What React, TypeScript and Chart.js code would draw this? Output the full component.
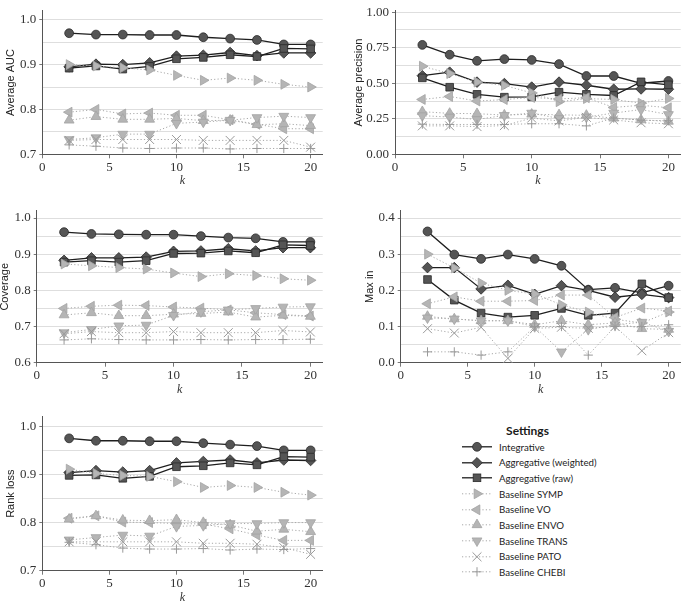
import React, { useEffect, useRef } from "react";
import { Chart, registerables } from "chart.js";
Chart.register(...registerables);

const SERIF = '"Liberation Serif", "DejaVu Serif", serif';
const SANS = '"Liberation Sans", Arial, sans-serif';
const LEGEND_FONT = 'Lato, "Open Sans", sans-serif';

// ---------- data ----------
const kValues = [2, 4, 6, 8, 10, 12, 14, 16, 18, 20];
const xTickValues = [0, 5, 10, 15, 20];

const seriesLabels = [
  "Integrative",
  "Aggregative (weighted)",
  "Aggregative (raw)",
  "Baseline SYMP",
  "Baseline VO",
  "Baseline ENVO",
  "Baseline TRANS",
  "Baseline PATO",
  "Baseline CHEBI",
];

// Average AUC
const aucIntegrative = [0.970, 0.967, 0.967, 0.966, 0.966, 0.961, 0.958, 0.955, 0.945, 0.945];
const aucWeighted = [0.895, 0.901, 0.900, 0.904, 0.919, 0.921, 0.927, 0.920, 0.926, 0.926];
const aucRaw = [0.892, 0.897, 0.890, 0.896, 0.913, 0.916, 0.922, 0.918, 0.936, 0.935];
const aucSymp = [0.900, 0.897, 0.893, 0.888, 0.876, 0.865, 0.870, 0.865, 0.856, 0.850];
const aucVo = [0.794, 0.800, 0.790, 0.792, 0.787, 0.787, 0.777, 0.767, 0.757, 0.757];
const aucEnvo = [0.776, 0.784, 0.778, 0.778, 0.780, 0.775, 0.776, 0.766, 0.768, 0.764];
const aucTrans = [0.733, 0.737, 0.745, 0.745, 0.769, 0.772, 0.776, 0.782, 0.785, 0.782];
const aucPato = [0.731, 0.733, 0.733, 0.733, 0.733, 0.731, 0.731, 0.731, 0.731, 0.716];
const aucChebi = [0.721, 0.718, 0.714, 0.713, 0.714, 0.714, 0.712, 0.713, 0.713, 0.713];
const aucTicks = [0.7, 0.75, 0.8, 0.85, 0.9, 0.95, 1.0];
const aucTickLabels = ["0.7", "", "0.8", "", "0.9", "", "1.0"];

// Average precision
const apIntegrative = [0.770, 0.701, 0.658, 0.670, 0.664, 0.635, 0.551, 0.551, 0.500, 0.516];
const apWeighted = [0.553, 0.578, 0.508, 0.498, 0.473, 0.508, 0.486, 0.458, 0.460, 0.458];
const apRaw = [0.538, 0.472, 0.422, 0.402, 0.404, 0.437, 0.422, 0.414, 0.510, 0.489];
const apSymp = [0.620, 0.568, 0.508, 0.485, 0.432, 0.370, 0.392, 0.386, 0.360, 0.393];
const apVo = [0.386, 0.407, 0.375, 0.385, 0.400, 0.390, 0.398, 0.330, 0.345, 0.328];
const apEnvo = [0.300, 0.288, 0.286, 0.276, 0.282, 0.278, 0.274, 0.254, 0.242, 0.232];
const apTrans = [0.272, 0.262, 0.245, 0.274, 0.290, 0.252, 0.262, 0.290, 0.315, 0.280];
const apPato = [0.200, 0.200, 0.195, 0.202, 0.255, 0.235, 0.260, 0.242, 0.222, 0.215];
const apChebi = [0.212, 0.210, 0.210, 0.210, 0.215, 0.215, 0.200, 0.255, 0.240, 0.236];
const apTicks = [0, 0.125, 0.25, 0.375, 0.5, 0.625, 0.75, 0.875, 1.0];
const apTickLabels = ["0.00", "", "0.25", "", "0.50", "", "0.75", "", "1.00"];

// Coverage
const covIntegrative = [0.961, 0.956, 0.955, 0.954, 0.954, 0.950, 0.946, 0.944, 0.934, 0.934];
const covWeighted = [0.883, 0.890, 0.890, 0.892, 0.908, 0.909, 0.915, 0.909, 0.918, 0.918];
const covRaw = [0.878, 0.882, 0.878, 0.882, 0.902, 0.903, 0.909, 0.904, 0.926, 0.924];
const covSymp = [0.873, 0.868, 0.863, 0.859, 0.848, 0.838, 0.846, 0.841, 0.832, 0.828];
const covVo = [0.750, 0.756, 0.759, 0.758, 0.754, 0.751, 0.746, 0.738, 0.733, 0.729];
const covEnvo = [0.732, 0.738, 0.730, 0.730, 0.734, 0.736, 0.740, 0.726, 0.731, 0.728];
const covTrans = [0.683, 0.692, 0.702, 0.704, 0.731, 0.741, 0.746, 0.750, 0.754, 0.755];
const covPato = [0.680, 0.686, 0.683, 0.683, 0.686, 0.683, 0.683, 0.683, 0.689, 0.685];
const covChebi = [0.663, 0.666, 0.664, 0.663, 0.663, 0.664, 0.663, 0.664, 0.664, 0.665];
const covTicks = [0.6, 0.65, 0.7, 0.75, 0.8, 0.85, 0.9, 0.95, 1.0];
const covTickLabels = ["0.6", "", "0.7", "", "0.8", "", "0.9", "", "1.0"];

// Max in
const maxIntegrative = [0.363, 0.299, 0.287, 0.299, 0.287, 0.268, 0.202, 0.207, 0.193, 0.213];
const maxWeighted = [0.263, 0.263, 0.204, 0.214, 0.189, 0.213, 0.200, 0.181, 0.189, 0.180];
const maxRaw = [0.230, 0.173, 0.137, 0.126, 0.131, 0.150, 0.131, 0.137, 0.218, 0.180];
const maxSymp = [0.300, 0.262, 0.220, 0.200, 0.190, 0.160, 0.140, 0.120, 0.110, 0.140];
const maxVo = [0.163, 0.182, 0.170, 0.170, 0.172, 0.187, 0.187, 0.125, 0.151, 0.143];
const maxEnvo = [0.128, 0.121, 0.116, 0.116, 0.105, 0.116, 0.105, 0.110, 0.094, 0.092];
const maxTrans = [0.124, 0.121, 0.116, 0.116, 0.100, 0.030, 0.092, 0.105, 0.112, 0.087];
const maxPato = [0.094, 0.082, 0.098, 0.012, 0.095, 0.098, 0.095, 0.100, 0.033, 0.083];
const maxChebi = [0.030, 0.030, 0.021, 0.030, 0.100, 0.100, 0.021, 0.100, 0.100, 0.105];
const maxTicks = [0, 0.05, 0.1, 0.15, 0.2, 0.25, 0.3, 0.35, 0.4];
const maxTickLabels = ["0.0", "", "0.1", "", "0.2", "", "0.3", "", "0.4"];

// Rank loss
const rankIntegrative = [0.975, 0.970, 0.970, 0.969, 0.969, 0.965, 0.962, 0.959, 0.950, 0.950];
const rankWeighted = [0.904, 0.908, 0.905, 0.908, 0.924, 0.927, 0.930, 0.924, 0.930, 0.929];
const rankRaw = [0.898, 0.899, 0.892, 0.896, 0.916, 0.918, 0.924, 0.920, 0.937, 0.936];
const rankSymp = [0.911, 0.902, 0.898, 0.896, 0.885, 0.873, 0.877, 0.873, 0.863, 0.857];
const rankVo = [0.809, 0.814, 0.801, 0.800, 0.798, 0.797, 0.787, 0.774, 0.763, 0.763];
const rankEnvo = [0.807, 0.814, 0.805, 0.804, 0.806, 0.800, 0.795, 0.782, 0.786, 0.781];
const rankTrans = [0.764, 0.769, 0.774, 0.772, 0.792, 0.794, 0.798, 0.798, 0.800, 0.800];
const rankPato = [0.760, 0.760, 0.760, 0.760, 0.760, 0.757, 0.757, 0.755, 0.748, 0.734];
const rankChebi = [0.759, 0.754, 0.747, 0.745, 0.745, 0.746, 0.743, 0.745, 0.744, 0.746];
const rankTicks = [0.7, 0.75, 0.8, 0.85, 0.9, 0.95, 1.0];
const rankTickLabels = ["0.7", "", "0.8", "", "0.9", "", "1.0"];

// ---------- styles ----------
type SeriesStyle = {
  dark: boolean;
  pointStyle: string;
  rotation: number;
  radius: number;
};
const seriesStyles: SeriesStyle[] = [
  { dark: true, pointStyle: "circle", rotation: 0, radius: 4.4 },
  { dark: true, pointStyle: "rectRot", rotation: 0, radius: 5.3 },
  { dark: true, pointStyle: "rect", rotation: 0, radius: 5.4 },
  { dark: false, pointStyle: "triangle", rotation: 90, radius: 5.7 },
  { dark: false, pointStyle: "triangle", rotation: -90, radius: 5.7 },
  { dark: false, pointStyle: "triangle", rotation: 0, radius: 5.7 },
  { dark: false, pointStyle: "triangle", rotation: 180, radius: 5.7 },
  { dark: false, pointStyle: "crossRot", rotation: 0, radius: 6.3 },
  { dark: false, pointStyle: "cross", rotation: 0, radius: 4.6 },
];
const DARK_LINE = "#1e1e1e";
const DARK_FILL = "#555555";
const DARK_EDGE = "#2a2a2a";
const LIGHT_LINE = "#a8a8a8";
const LIGHT_FILL = "#b5b5b5";
const LIGHT_EDGE = "#a3a3a3";
const CROSS_COLOR = "#999999";
const GRID_COLOR = "#dedede";
const AXIS_COLOR = "#555555";

type PanelSpec = {
  title: string;
  series: number[][];
  ticks: number[];
  tickLabels: string[];
  yMin: number;
  yMax: number;
  canvasLeft: number;
  canvasTop: number;
  plotLeft: number;
  plotRight: number;
  plotTop: number;
  plotBottom: number;
};

const panels: PanelSpec[] = [
  {
    title: "Average AUC",
    series: [aucIntegrative, aucWeighted, aucRaw, aucSymp, aucVo, aucEnvo, aucTrans, aucPato, aucChebi],
    ticks: aucTicks, tickLabels: aucTickLabels, yMin: 0.7, yMax: 1.02,
    canvasLeft: 0, canvasTop: 0, plotLeft: 42.3, plotRight: 324.5, plotTop: 0.4, plotBottom: 154.3,
  },
  {
    title: "Average precision",
    series: [apIntegrative, apWeighted, apRaw, apSymp, apVo, apEnvo, apTrans, apPato, apChebi],
    ticks: apTicks, tickLabels: apTickLabels, yMin: 0, yMax: 1.01,
    canvasLeft: 348, canvasTop: 0, plotLeft: 395, plotRight: 682.4, plotTop: 3.5, plotBottom: 154.3,
  },
  {
    title: "Coverage",
    series: [covIntegrative, covWeighted, covRaw, covSymp, covVo, covEnvo, covTrans, covPato, covChebi],
    ticks: covTicks, tickLabels: covTickLabels, yMin: 0.6, yMax: 1.02,
    canvasLeft: -6, canvasTop: 200, plotLeft: 36.7, plotRight: 324.7, plotTop: 208.35, plotBottom: 362.7,
  },
  {
    title: "Max in",
    series: [maxIntegrative, maxWeighted, maxRaw, maxSymp, maxVo, maxEnvo, maxTrans, maxPato, maxChebi],
    ticks: maxTicks, tickLabels: maxTickLabels, yMin: 0, yMax: 0.42,
    canvasLeft: 359, canvasTop: 200, plotLeft: 400.7, plotRight: 682.1, plotTop: 208.35, plotBottom: 362.7,
  },
  {
    title: "Rank loss",
    series: [rankIntegrative, rankWeighted, rankRaw, rankSymp, rankVo, rankEnvo, rankTrans, rankPato, rankChebi],
    ticks: rankTicks, tickLabels: rankTickLabels, yMin: 0.7, yMax: 1.02,
    canvasLeft: 0, canvasTop: 405, plotLeft: 42.3, plotRight: 324.5, plotTop: 416.7, plotBottom: 570.7,
  },
];

const X_AXIS_H = 38;

function Panel({ p }: { p: PanelSpec }) {
  const ref = useRef<HTMLCanvasElement>(null);
  const cw = Math.ceil(p.plotRight - p.canvasLeft + 5);
  const ch = Math.ceil(p.plotBottom - p.canvasTop + X_AXIS_H);
  useEffect(() => {
    const yAxisW = p.plotLeft - p.canvasLeft;
    const padTop = p.plotTop - p.canvasTop;
    const padRight = cw - (p.plotRight - p.canvasLeft);
    const padBottom = ch - (p.plotBottom - p.canvasTop) - X_AXIS_H;
    const datasets = seriesStyles.map((s, i) => {
      const isCross = s.pointStyle === "cross" || s.pointStyle === "crossRot";
      return {
        label: seriesLabels[i],
        data: kValues.map((k, j) => ({ x: k, y: p.series[i][j] })),
        borderColor: s.dark ? DARK_LINE : LIGHT_LINE,
        borderWidth: s.dark ? 1.3 : 1,
        borderDash: s.dark ? [] : [1.2, 2.2],
        pointStyle: s.pointStyle as any,
        pointRotation: s.rotation,
        pointRadius: s.radius,
        pointHoverRadius: s.radius,
        pointBackgroundColor: s.dark ? DARK_FILL : LIGHT_FILL,
        pointBorderColor: s.dark ? DARK_EDGE : isCross ? CROSS_COLOR : LIGHT_EDGE,
        pointBorderWidth: isCross ? 1 : 0.8,
        tension: 0,
        fill: false,
        clip: false as any,
        order: seriesStyles.length - i,
      };
    });
    const chart = new Chart(ref.current!, {
      type: "line",
      data: { datasets: datasets as any },
      options: {
        responsive: false,
        animation: false,
        events: [],
        layout: { padding: { left: 0, top: padTop, right: padRight, bottom: padBottom } },
        plugins: { legend: { display: false }, tooltip: { enabled: false } },
        scales: {
          x: {
            type: "linear",
            min: 0,
            max: 20.9,
            afterBuildTicks: (s: any) => {
              s.ticks = xTickValues.map((v) => ({ value: v }));
            },
            afterFit: (s: any) => {
              s.height = X_AXIS_H;
            },
            ticks: {
              autoSkip: false,
              maxRotation: 0,
              padding: 1,
              color: "#333",
              font: { family: SERIF, size: 13 },
              callback: (v: any) => String(v),
            },
            grid: {
              display: true,
              drawOnChartArea: false,
              drawTicks: true,
              tickLength: 4,
              tickColor: AXIS_COLOR,
              tickWidth: 0.8,
            },
            border: { display: true, color: AXIS_COLOR, width: 1 },
            title: {
              display: true,
              text: "k",
              color: "#333",
              font: { family: SERIF, size: 12, style: "italic" },
              padding: { top: 0, bottom: 4 },
            },
          },
          y: {
            type: "linear",
            min: p.yMin,
            max: p.yMax,
            afterBuildTicks: (s: any) => {
              s.ticks = p.ticks.map((v) => ({ value: v }));
            },
            afterFit: (s: any) => {
              s.width = yAxisW;
            },
            ticks: {
              autoSkip: false,
              padding: 3,
              color: "#333",
              font: { family: SERIF, size: 13 },
              callback: (_v: any, i: number) => p.tickLabels[i],
            },
            grid: {
              display: true,
              drawOnChartArea: true,
              drawTicks: true,
              tickLength: 3,
              lineWidth: 1,
              color: (ctx: any) => (ctx.index === 0 ? "rgba(0,0,0,0)" : GRID_COLOR),
              tickColor: (ctx: any) => (p.tickLabels[ctx.index] ? AXIS_COLOR : "rgba(0,0,0,0)"),
              tickWidth: 0.8,
            },
            border: { display: true, color: AXIS_COLOR, width: 1 },
            title: {
              display: true,
              text: p.title,
              color: "#222",
              font: { family: SANS, size: 11 },
              padding: { top: 4, bottom: 0 },
            },
          },
        },
      },
    });
    return () => chart.destroy();
  }, []);
  return (
    <canvas
      ref={ref}
      width={cw}
      height={ch}
      style={{ position: "absolute", left: p.canvasLeft, top: p.canvasTop, width: cw, height: ch }}
    />
  );
}

function LegendGlyph({ s }: { s: SeriesStyle }) {
  const w = 30;
  const h = 15.6;
  const cx = 15;
  const cy = h / 2;
  const fill = s.dark ? DARK_FILL : LIGHT_FILL;
  const edge = s.dark ? DARK_EDGE : LIGHT_EDGE;
  let marker: React.ReactNode = null;
  const r = s.radius;
  if (s.pointStyle === "circle") {
    marker = <circle cx={cx} cy={cy} r={r} fill={fill} stroke={edge} strokeWidth={0.8} />;
  } else if (s.pointStyle === "rectRot") {
    marker = (
      <polygon
        points={`${cx},${cy - r} ${cx + r},${cy} ${cx},${cy + r} ${cx - r},${cy}`}
        fill={fill}
        stroke={edge}
        strokeWidth={0.8}
      />
    );
  } else if (s.pointStyle === "rect") {
    const a = r * Math.SQRT1_2;
    marker = <rect x={cx - a} y={cy - a} width={2 * a} height={2 * a} fill={fill} stroke={edge} strokeWidth={0.8} />;
  } else if (s.pointStyle === "triangle") {
    const pts: string[] = [];
    for (let i = 0; i < 3; i++) {
      const ang = (s.rotation * Math.PI) / 180 + (i * 2 * Math.PI) / 3;
      pts.push(`${cx + Math.sin(ang) * r},${cy - Math.cos(ang) * r}`);
    }
    marker = <polygon points={pts.join(" ")} fill={fill} stroke={edge} strokeWidth={0.8} />;
  } else if (s.pointStyle === "crossRot") {
    const a = r * Math.SQRT1_2;
    marker = (
      <g stroke={CROSS_COLOR} strokeWidth={1}>
        <line x1={cx - a} y1={cy - a} x2={cx + a} y2={cy + a} />
        <line x1={cx - a} y1={cy + a} x2={cx + a} y2={cy - a} />
      </g>
    );
  } else if (s.pointStyle === "cross") {
    marker = (
      <g stroke={CROSS_COLOR} strokeWidth={1}>
        <line x1={cx - r} y1={cy} x2={cx + r} y2={cy} />
        <line x1={cx} y1={cy - r} x2={cx} y2={cy + r} />
      </g>
    );
  }
  return (
    <svg width={w} height={h} style={{ display: "block", overflow: "visible" }}>
      <line
        x1={0}
        y1={cy}
        x2={w}
        y2={cy}
        stroke={s.dark ? DARK_LINE : LIGHT_LINE}
        strokeWidth={s.dark ? 1.3 : 1}
        strokeDasharray={s.dark ? undefined : "1.2 2.2"}
      />
      {marker}
    </svg>
  );
}

function Legend() {
  return (
    <div style={{ position: "absolute", left: 462, top: 423, width: 131, fontFamily: LEGEND_FONT }}>
      <div
        style={{
          height: 16,
          lineHeight: "16px",
          textAlign: "center",
          fontWeight: 700,
          fontSize: 12,
          color: "#1a1a1a",
        }}
      >
        Settings
      </div>
      {seriesLabels.map((label, i) => (
        <div key={label} style={{ display: "flex", alignItems: "center", height: 15.65 }}>
          <LegendGlyph s={seriesStyles[i]} />
          <span style={{ marginLeft: 7, fontSize: 9.7, color: "#222", whiteSpace: "nowrap" }}>{label}</span>
        </div>
      ))}
    </div>
  );
}

export default function App() {
  return (
    <div
      style={{
        position: "absolute",
        left: 0,
        top: 0,
        width: 685,
        height: 602,
        overflow: "hidden",
        background: "#fff",
      }}
    >
      {panels.map((p) => (
        <Panel key={p.title} p={p} />
      ))}
      <Legend />
    </div>
  );
}
